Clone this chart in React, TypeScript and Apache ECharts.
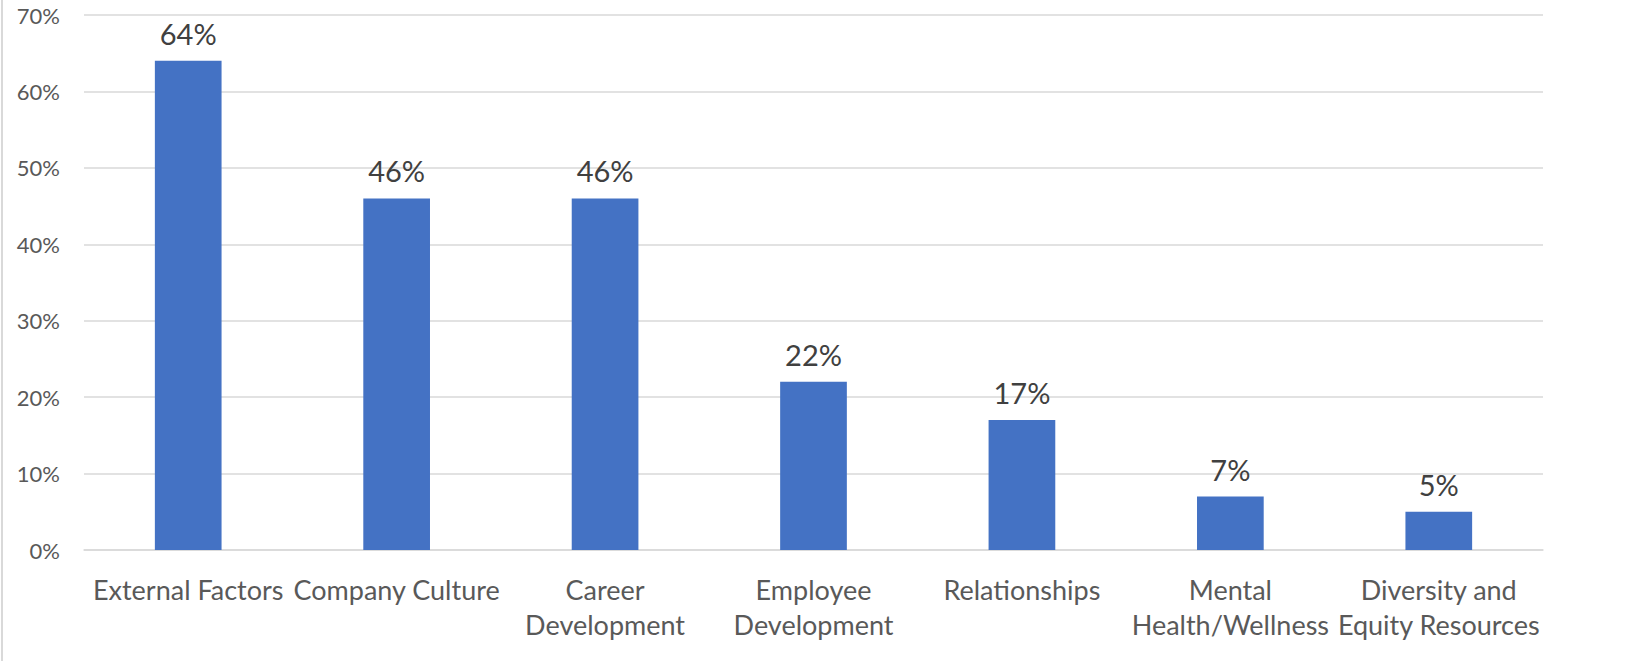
import React, { useEffect, useRef } from "react";
import * as echarts from "echarts";

const categories = [
  "External Factors",
  "Company Culture",
  "Career\nDevelopment",
  "Employee\nDevelopment",
  "Relationships",
  "Mental\nHealth/Wellness",
  "Diversity and\nEquity Resources",
];
const values = [64, 46, 46, 22, 17, 7, 5];
const yTicks = { min: 0, max: 70, interval: 10 };

export default function App() {
  const ref = useRef<HTMLDivElement>(null);
  useEffect(() => {
    document.body.style.margin = "0";
    const chart = echarts.init(ref.current!, undefined, { renderer: "svg" });
    chart.setOption({
      animation: false,
      textStyle: { fontFamily: "Lato" },
      graphic: [
        {
          type: "rect",
          left: 1,
          top: 0,
          shape: { x: 0, y: 0, width: 2, height: 661 },
          style: { fill: "#d9d9d9" },
        },
      ],
      grid: { left: 84, right: 82, top: 15, bottom: 111, containLabel: false },
      xAxis: {
        type: "category",
        data: categories,
        axisLine: { show: true, lineStyle: { color: "#d9d9d9", width: 1.5 } },
        axisTick: { show: false },
        axisLabel: {
          interval: 0,
          margin: 22,
          fontSize: 27,
          lineHeight: 35,
          color: "#595959",
          fontFamily: "Lato",
        },
      },
      yAxis: {
        type: "value",
        min: yTicks.min,
        max: yTicks.max,
        interval: yTicks.interval,
        axisLine: { show: false },
        axisTick: { show: false },
        splitLine: { lineStyle: { color: "#d9d9d9", width: 1.5 } },
        axisLabel: {
          formatter: (v: number) => `${v}%`,
          margin: 24,
          fontSize: 22,
          color: "#595959",
          fontFamily: "Lato",
        },
      },
      series: [
        {
          type: "bar",
          data: values,
          barWidth: "32%",
          itemStyle: { color: "#4472C4" },
          label: {
            show: true,
            position: "top",
            distance: 13,
            formatter: (p: any) => `${p.value}%`,
            fontSize: 29,
            color: "#404040",
            fontFamily: "Lato",
          },
        },
      ],
    });
    return () => chart.dispose();
  }, []);
  return <div ref={ref} style={{ width: 1625, height: 661 }} />;
}
